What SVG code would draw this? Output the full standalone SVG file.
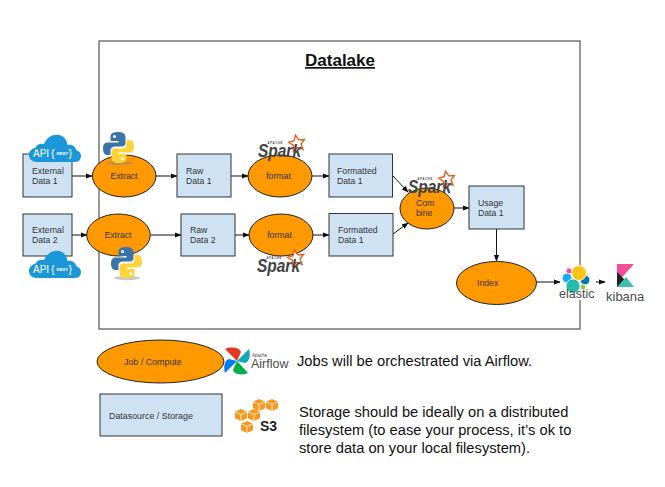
<svg xmlns="http://www.w3.org/2000/svg" width="665" height="487" viewBox="0 0 665 487">
<style>
text{font-family:"Liberation Sans",Arial,sans-serif;fill:#333}
.store{fill:#cfe2f3;stroke:#333;stroke-width:1}
.job{fill:#ff9900;stroke:#222;stroke-width:1}
.lbl{font-size:8.700px}
.body{font-size:14.700px;fill:#111}
.conn{fill:none;stroke:#111;stroke-width:1;marker-end:url(#arrow)}
.sp{font-style:italic;font-weight:700;font-size:19px;fill:#444}
.ap{font-size:2.600px;font-weight:700;letter-spacing:.8px;fill:#3c3a3e}
.api{fill:#fff;font-size:10px}
.rest{fill:#fff;font-size:4.400px;font-weight:700}
.brace{fill:#fff;font-size:11px}
.logo{fill:#4a4a4a}
</style>
<defs>
<marker id="arrow" viewBox="0 0 8 8" refX="7" refY="4" markerWidth="7" markerHeight="7" markerUnits="userSpaceOnUse" orient="auto"><path d="M0 1 L8 4 L0 7Z" fill="#111"/></marker>
<g id="python">
<ellipse cx="16" cy="31" rx="13" ry="2.200" fill="#888" opacity=".45"/>
<path d="M15 0C8 0 7.500 3 7.500 5V9H15.500V10.500H4.500C1.500 10.500 0 13 0 16.500C0 20.500 1.500 23 4.500 23H7.500V18.500C7.500 15.500 10 14.500 12 14.500H19C21 14.500 22.500 13 22.500 11V5C22.500 2 20 0 15 0Z" fill="#3a74a8"/>
<path d="M16 31C23 31 23.500 28 23.500 26V22H15.500V20.500H26.500C29.500 20.500 31 18 31 14.500C31 10.500 29.500 8 26.500 8H23.500V12.500C23.500 15.500 21 16.500 19 16.500H12C10 16.500 8.500 18 8.500 20V26C8.500 29 11 31 16 31Z" fill="#ffd43b"/>
<circle cx="11.500" cy="4.500" r="1.500" fill="#fff"/><circle cx="19.500" cy="26.500" r="1.500" fill="#fff"/>
</g>
<g id="spark">
<path d="M37.500 -21.900L40.800 -17.100L46.500 -17.500L43 -12.900L45.100 -7.600L39.700 -9.600L35.300 -5.900L35.500 -11.600L30.600 -14.700L36.100 -16.300Z" fill="#fff" stroke="#e25a1c" stroke-width="1.300"/>
<text class="sp" x="0" y="0" textLength="43" lengthAdjust="spacingAndGlyphs">Spark</text>
<text class="ap" x="9.500" y="-13">APACHE</text>
</g>
<g id="cloud">
<path d="M8 28C2 28 0 24 0 21C0 17 3 14.500 6 14C8 10 12 9 15 10C18 3 24 0 30 1C35 2 38 6 38.500 11C43 10 47 13 47 16C50 17 52 19 52 22C52 25 50 28 46 28Z" fill="#1b96d8"/>
<text class="api" x="4" y="23">API</text><text class="brace" x="22" y="23">{</text><text class="rest" x="27.500" y="21">REST</text><text class="brace" x="39.500" y="23">}</text>
</g>
<g id="cube"><path d="M0 2.800L6 0L12 2.800V9.200L6 12L0 9.200Z" fill="#f7981d"/><path d="M0 2.800L6 5.500V12M6 5.500L12 2.800" fill="none" stroke="#fff" stroke-width=".8"/></g>
</defs>
<rect width="665" height="487" fill="#fff"/>
<g id="datalake"><rect x="99" y="41" width="481" height="288" fill="#fff" stroke="#555" stroke-width="1.200"/>
<text x="340" y="66" text-anchor="middle" font-size="17" font-weight="700" text-decoration="underline" style="fill:#111">Datalake</text></g>
<g id="connectors">
<path class="conn" d="M72 176H92"/><path class="conn" d="M156 176H177"/><path class="conn" d="M231 176H248"/><path class="conn" d="M312 176H329"/>
<path class="conn" d="M393 176L408 192"/><path class="conn" d="M393 234L408 223"/><path class="conn" d="M454 208H469"/><path class="conn" d="M496.500 229V261"/>
<path class="conn" d="M536 282H560"/><path class="conn" d="M594 282H605"/>
<path class="conn" d="M72 235H87"/><path class="conn" d="M151 235H181"/><path class="conn" d="M235 235H249"/><path class="conn" d="M313 235H329"/>
</g>
<g id="external1"><rect class="store" x="23" y="154" width="49" height="43"/><text class="lbl" x="32" y="174">External</text><text class="lbl" x="32" y="184">Data 1</text><use href="#cloud" x="29" y="134"/></g>
<g id="external2"><rect class="store" x="23" y="214" width="49" height="42"/><text class="lbl" x="32" y="233">External</text><text class="lbl" x="32" y="243">Data 2</text><use href="#cloud" x="29" y="250"/></g>
<g id="extract1"><ellipse class="job" cx="124.200" cy="176" rx="31.800" ry="21"/><text class="lbl" x="124" y="179" text-anchor="middle">Extract</text><use href="#python" x="103" y="132"/></g>
<g id="extract2"><ellipse class="job" cx="118.500" cy="235" rx="31.800" ry="21"/><text class="lbl" x="118" y="238" text-anchor="middle">Extract</text><use href="#python" x="111" y="247"/></g>
<g id="raw1"><rect class="store" x="177" y="154" width="54" height="43"/><text class="lbl" x="186" y="174">Raw</text><text class="lbl" x="186" y="184">Data 1</text></g>
<g id="raw2"><rect class="store" x="181" y="214" width="54" height="42"/><text class="lbl" x="190" y="233">Raw</text><text class="lbl" x="190" y="243">Data 2</text></g>
<g id="format1"><ellipse class="job" cx="280" cy="176" rx="32" ry="21"/><text class="lbl" x="278.500" y="179" text-anchor="middle">format</text><use href="#spark" x="258" y="157"/></g>
<g id="format2"><ellipse class="job" cx="281" cy="235" rx="32" ry="21"/><text class="lbl" x="279.500" y="238" text-anchor="middle">format</text><use href="#spark" x="257" y="272"/></g>
<g id="formatted1"><rect class="store" x="329" y="154" width="63.500" height="43"/><text class="lbl" x="337" y="174">Formatted</text><text class="lbl" x="337" y="184">Data 1</text></g>
<g id="formatted2"><rect class="store" x="329" y="213.500" width="64" height="42.500"/><text class="lbl" x="338" y="233">Formatted</text><text class="lbl" x="338" y="243">Data 1</text></g>
<g id="combine"><ellipse class="job" cx="427" cy="208.500" rx="27" ry="20.500"/><text class="lbl" x="416" y="206">Com</text><text class="lbl" x="416" y="216">bine</text><use href="#spark" x="408" y="193"/></g>
<g id="usage"><rect class="store" x="469" y="186" width="55" height="43"/><text class="lbl" x="478" y="206">Usage</text><text class="lbl" x="478" y="216">Data 1</text></g>
<g id="index"><ellipse class="job" cx="496.500" cy="283" rx="40" ry="21.500"/><text class="lbl" x="477" y="286">Index</text></g>
<g id="elastic"><rect x="560" y="265" width="36" height="35" fill="#fff"/><g stroke="#fff" stroke-width=".7"><circle cx="569" cy="271" r="3" fill="#f04e98"/><circle cx="567" cy="278" r="4.800" fill="#1ba9f5"/><circle cx="585" cy="280" r="4.800" fill="#0077a8"/><circle cx="579" cy="273" r="7.500" fill="#fec514"/><circle cx="583" cy="287" r="2.800" fill="#93c83e"/><circle cx="573" cy="286" r="7" fill="#24bbb1"/></g><text class="logo" x="559" y="298" font-size="12.500">elastic</text></g>
<g id="kibana"><path d="M617 264H634L617 283Z" fill="#f04e98"/><path d="M617 272L626 281L617 287Z" fill="#222"/><path d="M617 287L626 277L634 287Z" fill="#3ebeb0"/><text class="logo" x="606" y="301" font-size="13">kibana</text></g>
<g id="legend-job"><ellipse class="job" cx="160.500" cy="361.500" rx="63.500" ry="21.500"/><text class="lbl" x="124" y="365" style="font-size:8.900px">Job / Compute</text></g>
<g id="airflow"><path d="M225 349C232 346 240 348 241 352L237 361Z" fill="#e43921"/><path d="M249 349C251 356 249 362 245 363L237 361Z" fill="#11a9b8"/><path d="M248 373C241 376 234 374 233 370L237 361Z" fill="#00ad46"/><path d="M225 373C223 366 225 360 229 359L237 361Z" fill="#017cee"/><text x="252" y="356.500" font-size="4.500" class="logo">Apache</text><text x="251" y="368" font-size="12.500" class="logo">Airflow</text></g>
<text class="body" x="297" y="366">Jobs will be orchestrated via Airflow.</text>
<g id="legend-storage"><rect class="store" x="100" y="394" width="122" height="42"/><text class="lbl" x="109" y="419" style="font-size:8.900px">Datasource / Storage</text></g>
<g id="s3"><use href="#cube" x="253" y="399"/><use href="#cube" x="266" y="399"/><use href="#cube" x="235" y="409"/><use href="#cube" x="248" y="409"/><use href="#cube" x="241" y="421"/><text x="260" y="431" font-size="14" font-weight="700" style="fill:#222">S3</text></g>
<text class="body" x="299" y="417">Storage should be ideally on a distributed</text>
<text class="body" x="299" y="435">filesystem (to ease your process, it’s ok to</text>
<text class="body" x="299" y="453">store data on your local filesystem).</text>
</svg>
